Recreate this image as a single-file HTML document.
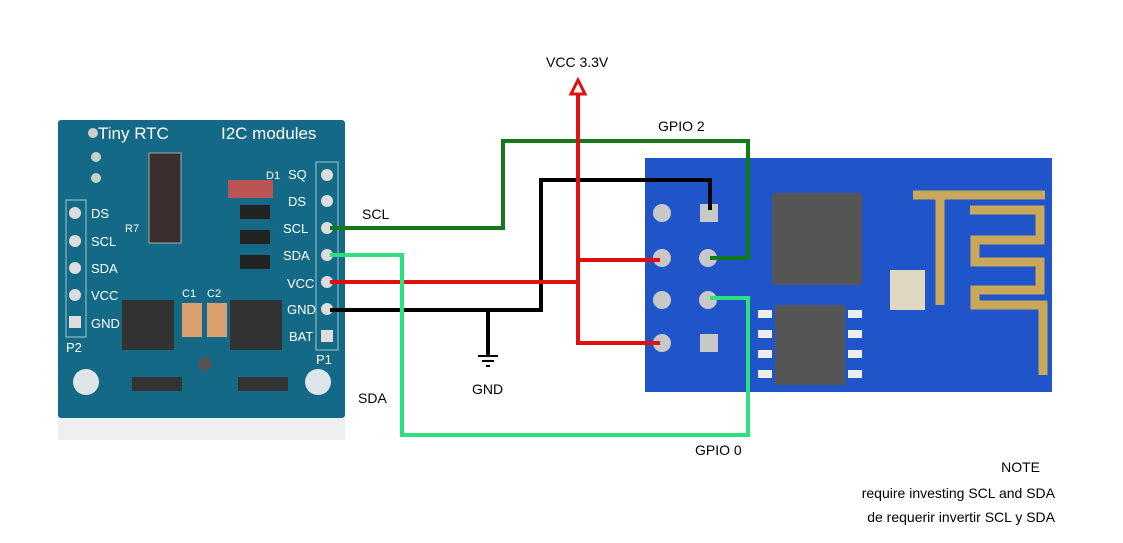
<!DOCTYPE html>
<html><head><meta charset="utf-8"><style>
html,body{margin:0;padding:0;background:#fff;}
svg{display:block;font-family:"Liberation Sans",sans-serif;}
</style></head><body>
<svg width="1123" height="543" viewBox="0 0 1123 543">
<rect width="1123" height="543" fill="#fff"/>
<!-- RTC board -->
<rect x="58" y="120" width="287" height="298" fill="#146a86" rx="3"/>
<rect x="58" y="418" width="287" height="22" fill="#eef0f0"/>
<text x="98" y="139" font-size="17" fill="#fff">Tiny RTC</text>
<text x="221" y="139" font-size="17" fill="#fff">I2C modules</text>
<circle cx="93" cy="133" r="5" fill="#ccc"/><circle cx="96" cy="157" r="5" fill="#ccc"/><circle cx="96" cy="178" r="5" fill="#ccc"/>
<rect x="66" y="200" width="20" height="137" fill="none" stroke="#9cc" stroke-width="1"/>
<g fill="#ddd"><circle cx="75" cy="213" r="6"/><circle cx="75" cy="241" r="6"/><circle cx="75" cy="268" r="6"/><circle cx="75" cy="295" r="6"/><rect x="69" y="316" width="12" height="12"/></g>
<g fill="#fff" font-size="13"><text x="91" y="218">DS</text><text x="91" y="246">SCL</text><text x="91" y="273">SDA</text><text x="91" y="300">VCC</text><text x="91" y="328">GND</text><text x="66" y="352">P2</text>
<text x="288" y="179">SQ</text><text x="288" y="206">DS</text><text x="283" y="233">SCL</text><text x="283" y="260">SDA</text><text x="287" y="288">VCC</text><text x="287" y="314">GND</text><text x="289" y="341">BAT</text><text x="316" y="364">P1</text>
<text x="125" y="232" font-size="11">R7</text><text x="182" y="297" font-size="11">C1</text><text x="207" y="297" font-size="11">C2</text><text x="266" y="179" font-size="11">D1</text></g>
<rect x="316" y="162" width="22" height="188" fill="none" stroke="#9cc"/>
<g fill="#ddd"><circle cx="327" cy="175" r="6"/><circle cx="327" cy="201" r="6"/><circle cx="327" cy="228" r="6"/><circle cx="327" cy="255" r="6"/><circle cx="327" cy="282" r="6"/><circle cx="327" cy="309" r="6"/><rect x="321" y="330" width="12" height="12"/></g>
<rect x="149" y="153" width="32" height="90" fill="#3a2e2e" stroke="#aaa"/>
<rect x="122" y="300" width="52" height="50" fill="#333"/>
<rect x="230" y="300" width="52" height="50" fill="#333"/>
<rect x="182" y="303" width="20" height="34" fill="#d9a070"/><rect x="207" y="303" width="20" height="34" fill="#d9a070"/>
<rect x="228" y="180" width="45" height="18" fill="#b55" />
<rect x="240" y="205" width="30" height="14" fill="#222"/><rect x="240" y="230" width="30" height="14" fill="#222"/><rect x="240" y="255" width="30" height="14" fill="#222"/>
<circle cx="86" cy="382" r="13" fill="#dfe6ea"/><circle cx="318" cy="382" r="13" fill="#dfe6ea"/>
<circle cx="205" cy="364" r="7" fill="#555"/>
<rect x="132" y="377" width="50" height="14" fill="#333"/><rect x="238" y="377" width="50" height="14" fill="#333"/>
<!-- ESP board -->
<rect x="645" y="158" width="407" height="234" fill="#1f55c8"/>
<g fill="#c8c8c8"><circle cx="662" cy="213" r="9"/><rect x="700" y="204" width="18" height="18"/><circle cx="708" cy="258" r="9"/><circle cx="662" cy="258" r="9"/><circle cx="662" cy="300" r="9"/><circle cx="708" cy="300" r="9"/><circle cx="662" cy="343" r="9"/><rect x="700" y="334" width="18" height="18"/></g>
<rect x="772" y="193" width="90" height="92" fill="#555" rx="3"/>
<rect x="775" y="305" width="70" height="80" fill="#555"/>
<g fill="#eee"><rect x="758" y="310" width="14" height="8"/><rect x="758" y="330" width="14" height="8"/><rect x="758" y="350" width="14" height="8"/><rect x="758" y="370" width="14" height="8"/><rect x="848" y="310" width="14" height="8"/><rect x="848" y="330" width="14" height="8"/><rect x="848" y="350" width="14" height="8"/><rect x="848" y="370" width="14" height="8"/></g>
<rect x="890" y="270" width="35" height="40" fill="#e0d8c0"/>
<path d="M913 195 H1045 M940 195 V305 M970 210 H1040 V240 H975 V262 H1040 V290 H975 V305 H1043 V375" fill="none" stroke="#c9a85a" stroke-width="9"/>
<!-- wires -->
<g fill="none" stroke-width="4">
<polyline points="330,228 503,228 503,141 748,141 748,258 710,258" stroke="#137a1a"/>
<polyline points="330,310 541,310 541,180 710,180 710,210" stroke="#000"/>
<polyline points="488,310 488,355" stroke="#000"/>
<polyline points="330,282 578,282" stroke="#e01010"/>
<polyline points="578,90 578,343 660,343" stroke="#e01010"/>
<polyline points="578,260 660,260" stroke="#e01010"/>
<polyline points="330,255 402,255 402,435 748,435 748,298 710,298" stroke="#2fe07f"/>
</g>
<polygon points="578,80 571,94 585,94" fill="#fff" stroke="#e01010" stroke-width="3"/>
<g stroke="#000" stroke-width="2"><line x1="478" y1="356" x2="498" y2="356"/><line x1="482" y1="361" x2="494" y2="361"/><line x1="486" y1="366" x2="490" y2="366"/></g>
<g font-size="14" fill="#000">
<text x="546" y="67">VCC 3.3V</text>
<text x="658" y="131">GPIO 2</text>
<text x="362" y="219">SCL</text>
<text x="358" y="403">SDA</text>
<text x="472" y="394">GND</text>
<text x="695" y="455">GPIO 0</text>
<text x="1040" y="472" text-anchor="end">NOTE</text>
<text x="1055" y="498" text-anchor="end">require investing SCL and SDA</text>
<text x="1055" y="522" text-anchor="end">de requerir invertir SCL y SDA</text>
</g>
</svg>
</body></html>
